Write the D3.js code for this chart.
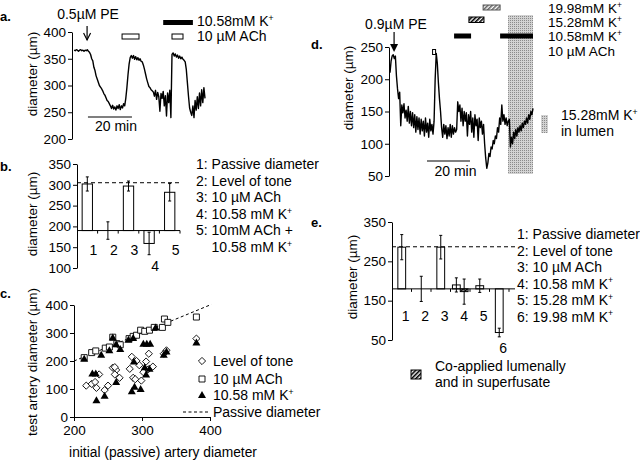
<!DOCTYPE html>
<html><head><meta charset="utf-8">
<script src="https://cdn.jsdelivr.net/npm/d3@7"></script>
<style>body{margin:0;background:#fff}svg{display:block}text{font-family:"Liberation Sans",Arial,Helvetica,sans-serif;fill:#000}</style>
</head><body><svg id="c" width="640" height="461"></svg>
<script>
// ---------------- DATA ----------------
// panel a: diameter trace (µm), sampled every 0.5 min starting at 0.5 min
const aSampleMin = 0.5, aStartMin = 0.5;
const traceA = [366,365,367,366,364,366,367,365,366,364,366,365,367,364,362,
  358,350,346,334,328,318,
  312,306,300,297,294,290,285,282,277,272,270,266,
  262,257,263,256,260,254,262,257,264,255,262,258,266,262,
  276,296,320,340,352,
  356,351,356,349,354,348,352,347,350,345,344,
  338,330,321,312,305,298,296,292,290,
  288,280,291,274,287,279,252,285,276,289,262,281,243,286,268,291,240,
  358,
  361,355,359,353,357,351,355,350,353,349,347,344,
  330,305,280,258,250,244,
  262,240,272,254,279,257,286,262,292,268,296,276];
const aTicks = [200,250,300,350,400];
const aPEmin = 6.4;
const aScaleBar = [6.8,26.8];
const aAChPeriods = [[22.3,30],[45,50]];
const aKPeriods = [[41,54.5]];
const aLegend = ["10.58mM K^+","10 µM ACh"];

// panel b
const bLabels = ["1","2","3","4","5"];
const bMeans = [302,190,297,159,282];
const bErr = [17,21,12,27,21];
const bBaseline = 190;
const bPassive = 305;
const bTicks = [100,150,200,250,300,350];
const bLegend = ["1: Passive diameter","2: Level of tone","3: 10 µM ACh","4: 10.58 mM K^+","5: 10mM ACh +","    10.58 mM K^+"];

// panel c: scatter (initial passive diameter, test diameter)
const cToneX = [218,226,231,233,237,245,250,257,262,260,267,282,285,287,290,292,296,299,302,306,310,316,309,336,380,332,260];
const cToneY = [112,118,125,104,152,96,112,176,168,152,140,172,215,140,135,200,185,130,160,198,226,180,170,238,280,226,178];
const cAChX = [215,226,232,246,252,257,263,268,281,287,292,298,304,311,318,330,333,338,380];
const cAChY = [212,230,236,246,250,285,262,258,280,288,292,310,306,310,320,320,350,338,357];
const cKX = [215,240,252,257,262,268,280,287,302,307,312,320,332,336,380,227,232,233,245,262,285,289,298,288,304,306,311];
const cKY = [208,222,238,284,260,243,276,282,262,262,262,320,222,234,266,155,155,60,76,125,92,108,100,198,178,152,172];
const cPassiveLine = [200,402];
const cXTicks = [200,300,400];
const cYTicks = [0,100,200,300,400];
const cLegend = ["Level of tone","10 µM ACh","10.58 mM K^+","Passive diameter"];

// panel d: diameter trace (µm), sampled every 0.5 min starting at 0
const dSampleMin = 0.5;
const traceD = [210,228,236,238,232,236,
  205,185,170,180,128,160,
  148,162,140,152,135,158,132,150,
  128,148,125,145,118,142,122,140,115,138,120,135,112,140,118,132,110,138,120,130,115,
  135,200,240,225,195,170,150,
  125,110,130,115,128,108,125,112,130,110,128,115,125,118,122,
  165,150,160,135,155,128,150,135,148,112,145,130,150,118,140,110,145,128,138,105,140,125,135,115,130,
  100,78,62,70,85,80,95,92,105,100,112,108,
  125,118,140,130,160,135,145,130,140,128,135,138,95,
  110,100,118,108,122,112,125,118,128,120,132,125,135,130,140,132,145,138,150,145,155];
const dTicks = [50,100,150,200,250];
const dPEmin = 1.9;
const dScaleBar = [17.2,37.2];
const dAChPeriods = [[19.8,21.2]];
const dK1058 = [[29.8,37.7],[51.2,66.5]];
const dK1528 = [[36.7,43.7]];
const dK1998 = [[43.3,51.2]];
const dLumen = [54.9,66.5];
const dLegend = ["19.98mM K^+","15.28mM K^+","10.58mM K^+","10 µM ACh"];
const dLumenLegend = ["15.28mM K^+","in lumen"];

// panel e
const eLabels = ["1","2","3","4","5","6"];
const eMeans = [286,180,286,190,188,69];
const eErr = [32,32,30,18,17,11];
const eCoLabel = "4";
const eCoMean = 173, eCoErr = 32;
const eBaseline = 180;
const ePassive = 287;
const eTicks = [50,150,250,350];
const eLegend = ["1: Passive diameter","2: Level of tone","3: 10 µM ACh","4: 10.58 mM K^+","5: 15.28 mM K^+","6: 19.98 mM K^+"];
const eCoLegend = ["Co-applied lumenally","and in superfusate"];

// ---------------- DRAW ----------------
const svg = d3.select('#c');
const defs = svg.append('defs');
function hatch(id, col){
  const p = defs.append('pattern').attr('id',id).attr('patternUnits','userSpaceOnUse')
    .attr('width',3).attr('height',3).attr('patternTransform','rotate(45)');
  p.append('rect').attr('width',3).attr('height',3).attr('fill','#fff');
  p.append('rect').attr('width',1.6).attr('height',3).attr('fill',col);
}
hatch('hatchDark','#000'); hatch('hatchLight','#666');
const st = defs.append('pattern').attr('id','stipple').attr('patternUnits','userSpaceOnUse').attr('width',2).attr('height',2);
st.append('rect').attr('width',2).attr('height',2).attr('fill','#d2d2d2');
st.append('rect').attr('width',1).attr('height',1).attr('fill','#8a8a8a');

function addText(parent, x, y, str, size=14, anchor='start', weight='normal'){
  const t = parent.append('text').attr('x',x).attr('y',y).attr('font-size',size)
    .attr('text-anchor',anchor).attr('font-weight',weight).attr('xml:space','preserve');
  const parts = str.split('^');
  t.append('tspan').text(parts[0]);
  if (parts.length>1) t.append('tspan').attr('font-size',size*0.62).attr('dy',-size*0.36).text(parts[1]);
  return t;
}
function yLabel(x, y, str, size=13.5){
  svg.append('text').attr('transform',`translate(${x},${y}) rotate(-90)`).attr('text-anchor','middle')
    .attr('dominant-baseline','central').attr('font-size',size).text(str);
}
function leftAxis(scale, x, ticks){
  const g = svg.append('g').attr('transform',`translate(${x},0)`)
    .call(d3.axisLeft(scale).tickValues(ticks).tickSize(4).tickSizeOuter(0).tickPadding(2));
  g.selectAll('text').attr('font-size',13.5).attr('font-family','"Liberation Sans",Arial,sans-serif');
  g.selectAll('path,line').attr('stroke','#000');
  return g;
}

// panel letters
addText(svg,0,21,'a.',13,'start','bold');
addText(svg,0,171,'b.',13,'start','bold');
addText(svg,0,298,'c.',13,'start','bold');
addText(svg,311,49,'d.',13,'start','bold');
addText(svg,311,227,'e.',13,'start','bold');

// ===== panel a =====
const xA = d3.scaleLinear([0,60],[73,205]);
const yA = d3.scaleLinear([200,400],[139,32]);
leftAxis(yA,72,aTicks);
yLabel(32,74,'diameter (µm)');
svg.append('path').datum(traceA)
  .attr('d', d3.line().x((v,i)=>xA(aStartMin+i*aSampleMin)).y(v=>yA(v)))
  .attr('fill','none').attr('stroke','#000').attr('stroke-width',1.4).attr('stroke-linejoin','round');
{
  const px = xA(aPEmin);
  svg.append('line').attr('x1',px).attr('x2',px).attr('y1',26).attr('y2',40).attr('stroke','#000').attr('stroke-width',1.2);
  svg.append('path').attr('d',`M${px-3.5},33L${px},40L${px+3.5},33`).attr('fill','none').attr('stroke','#000').attr('stroke-width',1.2);
  addText(svg, px+1, 19, '0.5µM PE', 14, 'middle');
}
svg.append('line').attr('x1',xA(aScaleBar[0])).attr('x2',xA(aScaleBar[1])).attr('y1',117).attr('y2',117).attr('stroke','#555').attr('stroke-width',1.3);
addText(svg,(xA(aScaleBar[0])+xA(aScaleBar[1]))/2+6,131,'20 min',14,'middle');
aAChPeriods.forEach(p=>svg.append('rect').attr('x',xA(p[0])).attr('y',34).attr('width',xA(p[1])-xA(p[0])).attr('height',5).attr('fill','#fff').attr('stroke','#000'));
aKPeriods.forEach(p=>svg.append('rect').attr('x',xA(p[0])).attr('y',20).attr('width',xA(p[1])-xA(p[0])).attr('height',5).attr('fill','#000'));
addText(svg,197,26,aLegend[0],14);
addText(svg,197,41,aLegend[1],14);

// ===== bar panels helper =====
function errBar(cx, yS, m, e){
  svg.append('line').attr('x1',cx).attr('x2',cx).attr('y1',yS(m-e)).attr('y2',yS(m+e)).attr('stroke','#000');
  [m-e,m+e].forEach(v=>svg.append('line').attr('x1',cx-1.5).attr('x2',cx+1.5).attr('y1',yS(v)).attr('y2',yS(v)).attr('stroke','#000'));
}
function barPanel(labels, means, errs, base, passive, yS, xS, axisX, lineEnd, labelY, labelDX){
  const step = xS.step();
  const x0 = axisX;
  svg.append('line').attr('x1',x0).attr('x2',lineEnd).attr('y1',yS(passive)).attr('y2',yS(passive))
    .attr('stroke','#000').attr('stroke-dasharray','4,3');
  labels.forEach((l,i)=>{
    const m = means[i];
    if (m !== base) svg.append('rect').attr('x',xS(l)).attr('width',xS.bandwidth())
      .attr('y',Math.min(yS(m),yS(base))).attr('height',Math.abs(yS(m)-yS(base)))
      .attr('fill','#fff').attr('stroke','#000');
  });
  svg.append('line').attr('x1',x0).attr('x2',lineEnd).attr('y1',yS(base)).attr('y2',yS(base)).attr('stroke','#000');
  labels.forEach((l,i)=>{
    const bx = x0 + (i+1)*step;
    svg.append('line').attr('x1',bx).attr('x2',bx).attr('y1',yS(base)).attr('y2',yS(base)+3).attr('stroke','#000');
  });
  labels.forEach((l,i)=>{
    const m = means[i], e = errs[i], cx = xS(l)+xS.bandwidth()/2;
    errBar(cx, yS, m, e);
    const ly = m < base ? yS(m-e)+16 : labelY;
    addText(svg, cx+labelDX, ly, l, 14, 'middle');
  });
}

// ===== panel b =====
const yB = d3.scaleLinear([100,350],[268,164]);
const xB = d3.scaleBand(bLabels,[77,180]).paddingInner(0.5).paddingOuter(0.25);
leftAxis(yB,77,bTicks);
yLabel(32,214,'diameter (µm)');
barPanel(bLabels,bMeans,bErr,bBaseline,bPassive,yB,xB,77,180,255,6);
bLegend.forEach((s,i)=>addText(svg,196,169+i*16.6,s,14));

// ===== panel c =====
const xC = d3.scaleLinear([200,400],[74,210]);
const yC = d3.scaleLinear([0,400],[417,305]);
{
  leftAxis(yC,74,cYTicks);
  const gx = svg.append('g').attr('transform','translate(0,417)')
    .call(d3.axisBottom(xC).tickValues(cXTicks).tickSize(4).tickSizeOuter(0).tickPadding(4));
  gx.selectAll('text').attr('font-size',13.5).attr('font-family','"Liberation Sans",Arial,sans-serif');
  gx.selectAll('path,line').attr('stroke','#000');
}
yLabel(32,362,'test artery diameter (µm)');
addText(svg,163,457,'initial (passive) artery diameter',13.8,'middle');
svg.append('line').attr('x1',xC(cPassiveLine[0])).attr('y1',yC(cPassiveLine[0]))
  .attr('x2',xC(cPassiveLine[1])).attr('y2',yC(cPassiveLine[1])).attr('stroke','#000').attr('stroke-dasharray','3,2.5');
const diamond = 'M0,-3.6L3.6,0L0,3.6L-3.6,0Z';
const square = 'M-3,-3H3V3H-3Z';
const tri = 'M0,-4L4,3L-4,3Z';
cToneX.forEach((x,i)=>svg.append('path').attr('d',diamond).attr('transform',`translate(${xC(x)},${yC(cToneY[i])})`).attr('fill','#fff').attr('stroke','#000').attr('stroke-width',0.9));
cAChX.forEach((x,i)=>svg.append('path').attr('d',square).attr('transform',`translate(${xC(x)},${yC(cAChY[i])})`).attr('fill','#fff').attr('stroke','#000').attr('stroke-width',0.9));
cKX.forEach((x,i)=>svg.append('path').attr('d',tri).attr('transform',`translate(${xC(x)},${yC(cKY[i])})`).attr('fill','#000'));
svg.append('path').attr('d',diamond).attr('transform','translate(202,361)').attr('fill','#fff').attr('stroke','#000').attr('stroke-width',0.9);
svg.append('path').attr('d',square).attr('transform','translate(202,379)').attr('fill','#fff').attr('stroke','#000').attr('stroke-width',0.9);
svg.append('path').attr('d',tri).attr('transform','translate(202,395)').attr('fill','#000');
svg.append('line').attr('x1',183).attr('x2',210).attr('y1',412).attr('y2',412).attr('stroke','#000').attr('stroke-dasharray','3,2.5');
cLegend.forEach((s,i)=>addText(svg,213,[366,384,400,417][i],s,14));

// ===== panel d =====
const xD = d3.scaleLinear([0,66.5],[390,533]);
const yD = d3.scaleLinear([50,250],[176,47]);
svg.append('rect').attr('x',xD(dLumen[0])).attr('y',15).attr('width',xD(dLumen[1])-xD(dLumen[0])).attr('height',159).attr('fill','url(#stipple)');
leftAxis(yD,389,dTicks);
yLabel(348,88,'diameter (µm)');
svg.append('path').datum(traceD)
  .attr('d', d3.line().x((v,i)=>xD(i*dSampleMin)).y(v=>yD(v)))
  .attr('fill','none').attr('stroke','#000').attr('stroke-width',1.4).attr('stroke-linejoin','round');
{
  const px = xD(dPEmin);
  svg.append('line').attr('x1',px).attr('x2',px).attr('y1',32).attr('y2',46).attr('stroke','#000').attr('stroke-width',1.2);
  svg.append('path').attr('d',`M${px-4},44L${px},52L${px+4},44Z`).attr('fill','#000');
  addText(svg, 396, 29, '0.9µM PE', 14, 'middle');
}
svg.append('line').attr('x1',xD(dScaleBar[0])).attr('x2',xD(dScaleBar[1])).attr('y1',161).attr('y2',161).attr('stroke','#555').attr('stroke-width',1.3);
addText(svg,(xD(dScaleBar[0])+xD(dScaleBar[1]))/2+7,176,'20 min',14,'middle');
dAChPeriods.forEach(p=>svg.append('rect').attr('x',xD(p[0])).attr('y',49.5).attr('width',xD(p[1])-xD(p[0])).attr('height',5).attr('fill','#fff').attr('stroke','#000'));
dK1058.forEach(p=>svg.append('rect').attr('x',xD(p[0])).attr('y',33.5).attr('width',xD(p[1])-xD(p[0])).attr('height',5).attr('fill','#000'));
dK1528.forEach(p=>svg.append('rect').attr('x',xD(p[0])).attr('y',17).attr('width',xD(p[1])-xD(p[0])).attr('height',5.5).attr('fill','url(#hatchDark)').attr('stroke','#000'));
dK1998.forEach(p=>svg.append('rect').attr('x',xD(p[0])).attr('y',5).attr('width',xD(p[1])-xD(p[0])).attr('height',5).attr('fill','url(#hatchLight)').attr('stroke','#555'));
dLegend.forEach((s,i)=>addText(svg,548,[12.5,26.5,41,55.5][i],s,13.5));
svg.append('rect').attr('x',541).attr('y',115).attr('width',7).attr('height',18).attr('fill','url(#stipple)');
addText(svg,561,120,dLumenLegend[0],14);
addText(svg,561,136,dLumenLegend[1],14);

// ===== panel e =====
const yE = d3.scaleLinear([50,350],[340,222]);
const xE = d3.scaleBand(eLabels,[392,509]).paddingInner(0.6).paddingOuter(0.3);
leftAxis(yE,392,eTicks);
yLabel(352,277,'diameter (µm)');
{
  // the open bar and the co-applied bar share category 4
  const step = xE.step();
  svg.append('line').attr('x1',392).attr('x2',515).attr('y1',yE(ePassive)).attr('y2',yE(ePassive)).attr('stroke','#000').attr('stroke-dasharray','4,3');
  eLabels.forEach((l,i)=>{
    const m = eMeans[i];
    let bx = xE(l);
    if (l===eCoLabel) bx = xE(l)+xE.bandwidth()/2 - xE.bandwidth();
    if (m!==eBaseline) svg.append('rect').attr('x',bx).attr('width',xE.bandwidth())
      .attr('y',Math.min(yE(m),yE(eBaseline))).attr('height',Math.abs(yE(m)-yE(eBaseline))).attr('fill','#fff').attr('stroke','#000');
  });
  const cbx = xE(eCoLabel)+xE.bandwidth()/2;
  svg.append('rect').attr('x',cbx).attr('width',xE.bandwidth()).attr('y',yE(eBaseline)).attr('height',yE(eCoMean)-yE(eBaseline)).attr('fill','url(#hatchDark)').attr('stroke','#000');
  svg.append('line').attr('x1',392).attr('x2',515).attr('y1',yE(eBaseline)).attr('y2',yE(eBaseline)).attr('stroke','#000');
  eLabels.forEach((l,i)=>{
    const bx = 392 + (i+1)*step;
    svg.append('line').attr('x1',bx).attr('x2',bx).attr('y1',yE(eBaseline)).attr('y2',yE(eBaseline)+3).attr('stroke','#000');
  });
  eLabels.forEach((l,i)=>{
    const m = eMeans[i], e = eErr[i];
    let cx = xE(l)+xE.bandwidth()/2;
    if (l===eCoLabel) cx = xE(l);
    errBar(cx, yE, m, e);
    const ly = m < eBaseline ? yE(m-e)+16 : 321;
    addText(svg, xE(l)+xE.bandwidth()/2+4, ly, l, 14, 'middle');
  });
  errBar(cbx+xE.bandwidth()/2, yE, eCoMean, eCoErr);
}
eLegend.forEach((s,i)=>addText(svg,517,239+i*16.5,s,14));
svg.append('rect').attr('x',411).attr('y',370).attr('width',10).attr('height',9).attr('fill','url(#hatchDark)').attr('stroke','#000');
addText(svg,435,371,eCoLegend[0],14);
addText(svg,435,387,eCoLegend[1],14);
</script></body></html>
